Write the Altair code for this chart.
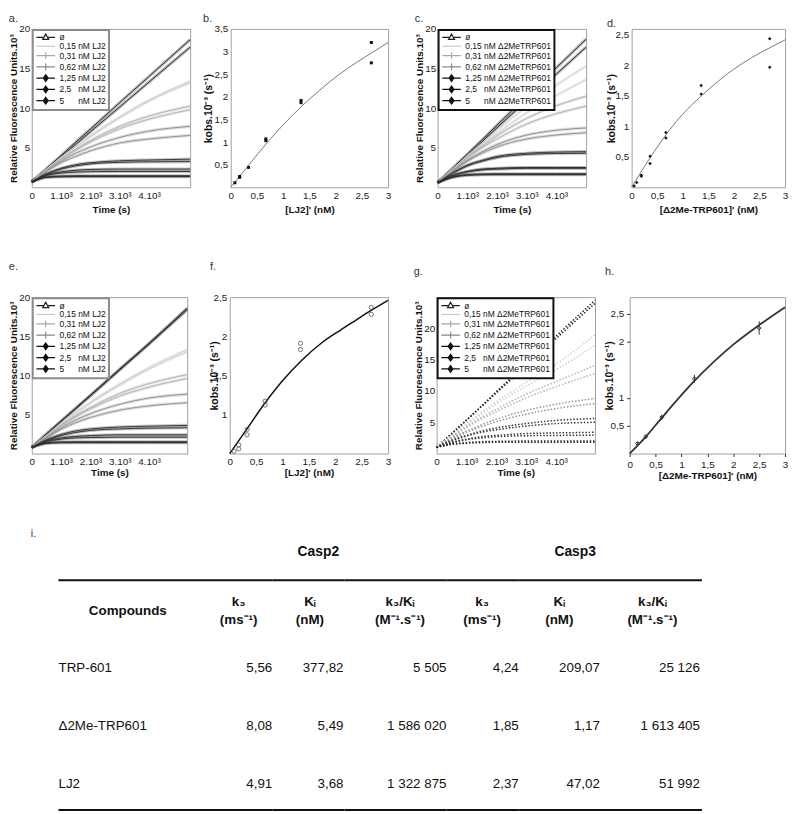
import altair as alt
import pandas as pd

FONT = "Liberation Sans"

# ---------------- time-course panels (a, c, e, g) : values ----------------
TIME_A = [0, 500, 1000, 1500, 2000, 3000, 4000, 5400]
TIME_C = [0, 500, 1000, 1500, 2000, 3000, 4000, 5000]
TIME_E = [0, 500, 1000, 1500, 2000, 3000, 4000, 5300]
TIME_G = [0, 500, 1000, 1500, 2000, 3000, 4000, 5300]

LJ2_LABELS = ["ø", "0,15 nM LJ2", "0,31 nM LJ2", "0,62 nM LJ2", "1,25 nM LJ2",
              "2,5\u00a0\u00a0 nM LJ2", "5\u00a0\u00a0\u00a0\u00a0\u00a0 nM LJ2"]
ME_LABELS = ["ø", "0,15 nM Δ2MeTRP601", "0,31 nM Δ2MeTRP601", "0,62 nM Δ2MeTRP601",
             "1,25 nM Δ2MeTRP601", "2,5\u00a0\u00a0 nM Δ2MeTRP601",
             "5\u00a0\u00a0\u00a0\u00a0\u00a0 nM Δ2MeTRP601"]

A_SERIES = [
    [[0.7, 2.35, 4.0, 5.7, 7.35, 10.7, 14.0, 18.65], [0.7, 2.3, 3.85, 5.4, 7.0, 10.15, 13.3, 17.7]],
    [[0.7, 2.3, 3.8, 5.2, 6.5, 8.9, 11.0, 13.4], [0.7, 2.25, 3.75, 5.1, 6.4, 8.8, 10.9, 13.2]],
    [[0.7, 2.2, 3.6, 4.8, 5.9, 7.7, 9.0, 10.25], [0.7, 2.15, 3.5, 4.7, 5.7, 7.4, 8.6, 9.8]],
    [[0.7, 2.1, 3.3, 4.3, 5.1, 6.3, 7.1, 7.7], [0.7, 2.0, 3.1, 3.9, 4.6, 5.6, 6.1, 6.55]],
    [[0.7, 1.7, 2.4, 2.85, 3.1, 3.35, 3.45, 3.55], [0.7, 1.65, 2.3, 2.7, 2.95, 3.15, 3.22, 3.25]],
    [[0.7, 1.55, 1.95, 2.15, 2.25, 2.3, 2.3, 2.3], [0.7, 1.5, 1.8, 1.92, 1.97, 2.0, 2.0, 2.0]],
    [[0.7, 1.3, 1.42, 1.45, 1.45, 1.45, 1.45, 1.45], [0.7, 1.25, 1.33, 1.35, 1.35, 1.35, 1.35, 1.35]],
]
C_SERIES = [
    [[0.6, 2.4, 4.2, 6.0, 7.85, 11.5, 15.1, 18.7], [0.6, 2.3, 4.0, 5.75, 7.5, 10.95, 14.3, 17.7]],
    [[0.6, 2.3, 4.0, 5.6, 7.2, 10.2, 12.9, 15.3], [0.6, 2.3, 3.9, 5.4, 6.8, 9.4, 11.6, 13.6]],
    [[0.6, 2.2, 3.8, 5.2, 6.5, 8.7, 10.3, 11.5], [0.6, 2.2, 3.7, 5.0, 6.1, 8.0, 9.3, 10.25]],
    [[0.6, 2.1, 3.4, 4.5, 5.4, 6.6, 7.2, 7.5], [0.6, 2.0, 3.3, 4.3, 5.1, 6.1, 6.6, 6.9]],
    [[0.6, 1.8, 2.8, 3.4, 3.9, 4.3, 4.45, 4.5], [0.6, 1.75, 2.7, 3.3, 3.75, 4.15, 4.27, 4.3]],
    [[0.6, 1.5, 2.0, 2.3, 2.4, 2.5, 2.5, 2.5], [0.6, 1.45, 1.95, 2.2, 2.3, 2.4, 2.4, 2.4]],
    [[0.6, 1.3, 1.6, 1.68, 1.7, 1.7, 1.7, 1.7], [0.6, 1.25, 1.52, 1.58, 1.6, 1.6, 1.6, 1.6]],
]
E_SERIES = [
    [[0.8, 2.5, 4.15, 5.8, 7.45, 10.8, 14.1, 18.6], [0.8, 2.45, 4.1, 5.75, 7.4, 10.7, 14.0, 18.4]],
    [[0.8, 2.35, 3.85, 5.25, 6.55, 8.9, 11.0, 13.3], [0.8, 2.3, 3.8, 5.2, 6.45, 8.75, 10.8, 13.0]],
    [[0.8, 2.25, 3.65, 4.85, 5.9, 7.7, 8.95, 10.1], [0.8, 2.2, 3.55, 4.7, 5.7, 7.35, 8.5, 9.6]],
    [[0.8, 2.1, 3.3, 4.3, 5.1, 6.3, 7.1, 7.6], [0.8, 2.0, 3.1, 3.95, 4.6, 5.55, 6.1, 6.5]],
    [[0.8, 1.75, 2.45, 2.9, 3.15, 3.4, 3.5, 3.6], [0.8, 1.7, 2.3, 2.7, 2.95, 3.15, 3.25, 3.3]],
    [[0.8, 1.6, 2.0, 2.2, 2.3, 2.4, 2.4, 2.4], [0.8, 1.5, 1.85, 2.0, 2.05, 2.1, 2.1, 2.1]],
    [[0.8, 1.35, 1.48, 1.5, 1.5, 1.5, 1.5, 1.5], [0.8, 1.3, 1.38, 1.4, 1.4, 1.4, 1.4, 1.4]],
]
G_SERIES = [
    [[1.0, 3.2, 5.4, 7.6, 9.9, 14.3, 18.8, 24.5], [1.0, 3.1, 5.3, 7.5, 9.7, 14.0, 18.4, 24.0]],
    [[1.0, 2.9, 4.8, 6.6, 8.3, 11.4, 14.3, 19.0], [1.0, 2.8, 4.6, 6.3, 7.9, 10.8, 13.4, 17.3]],
    [[1.0, 2.7, 4.3, 5.8, 7.1, 9.5, 11.5, 14.1], [1.0, 2.6, 4.1, 5.5, 6.7, 8.9, 10.7, 12.8]],
    [[1.0, 2.4, 3.6, 4.6, 5.5, 6.9, 7.9, 8.8], [1.0, 2.3, 3.4, 4.3, 5.1, 6.3, 7.2, 8.0]],
    [[1.0, 2.1, 2.9, 3.6, 4.1, 4.8, 5.3, 5.6], [1.0, 2.0, 2.8, 3.4, 3.8, 4.4, 4.8, 5.0]],
    [[1.0, 1.8, 2.3, 2.7, 2.9, 3.2, 3.3, 3.4], [1.0, 1.7, 2.2, 2.5, 2.7, 2.85, 2.9, 2.95]],
    [[1.0, 1.5, 1.75, 1.9, 1.95, 2.0, 2.0, 2.0], [1.0, 1.45, 1.65, 1.75, 1.8, 1.82, 1.82, 1.82]],
]

# ---------------- kobs panels (b, d, f, h) ----------------
B_X = [0.08, 0.17, 0.17, 0.34, 0.67, 0.67, 1.34, 1.34, 2.68, 2.68]
B_Y = [0.10, 0.22, 0.24, 0.44, 1.03, 1.07, 1.87, 1.92, 3.20, 2.75]
B_FIT_X = [0, 0.35, 0.69, 1.0, 1.36, 1.7, 2.05, 2.4, 2.7, 3.0]
B_FIT_Y = [0, 0.5, 0.98, 1.38, 1.8, 2.15, 2.48, 2.76, 2.98, 3.2]

D_X = [0.05, 0.1, 0.19, 0.19, 0.36, 0.36, 0.67, 0.67, 1.36, 1.36, 2.7, 2.7]
D_Y = [0.02, 0.08, 0.18, 0.2, 0.51, 0.39, 0.9, 0.81, 1.67, 1.53, 2.44, 1.97]
D_FIT_X = [0, 0.25, 0.5, 0.75, 1.0, 1.35, 1.75, 2.0, 2.35, 2.7, 3.0]
D_FIT_Y = [0, 0.34, 0.66, 0.95, 1.2, 1.49, 1.78, 1.94, 2.13, 2.29, 2.42]

F_X = [0.08, 0.17, 0.17, 0.33, 0.33, 0.67, 0.67, 1.34, 1.34, 2.68, 2.68]
F_Y = [0.53, 0.56, 0.61, 0.74, 0.81, 1.12, 1.17, 1.83, 1.91, 2.28, 2.37]
F_FIT_X = [0, 0.32, 0.65, 1.0, 1.36, 1.75, 2.1, 2.4, 2.7, 3.0]
F_FIT_Y = [0.5, 0.81, 1.13, 1.43, 1.69, 1.92, 2.08, 2.21, 2.34, 2.46]

H_X = [0.15, 0.31, 0.62, 1.25, 2.5]
H_Y = [0.18, 0.3, 0.65, 1.34, 2.25]
H_ERR = [0.03, 0.04, 0.04, 0.07, 0.12]
H_FIT_X = [0, 0.31, 0.62, 1.25, 2.0, 2.5, 3.0]
H_FIT_Y = [0, 0.3, 0.64, 1.3, 1.95, 2.3, 2.62]

# ---------------- table (i) ----------------
COMPOUNDS = ["TRP-601", "Δ2Me-TRP601", "LJ2"]
CASP2_K3 = ["5,56", "8,08", "4,91"]
CASP2_KI = ["377,82", "5,49", "3,68"]
CASP2_RATIO = ["5 505", "1 586 020", "1 322 875"]
CASP3_K3 = ["4,24", "1,85", "2,37"]
CASP3_KI = ["209,07", "1,17", "47,02"]
CASP3_RATIO = ["25 126", "1 613 405", "51 992"]
HEADERS = ["k₃\n(ms⁻¹)", "Kᵢ\n(nM)", "k₃/Kᵢ\n(M⁻¹.s⁻¹)"]

# ---------------- styles ----------------
LINE_COLORS = ["#2a2a2a", "#d0d0d0", "#b2b2b2", "#939393", "#3a3a3a", "#333333", "#2a2a2a"]
LEG_STROKE = ["#1e1e1e", "#c8c8c8", "#a8a8a8", "#888888", "#111111", "#111111", "#111111"]
LEG_FILL = ["#ffffff", "#c8c8c8", "#a8a8a8", "#888888", "#111111", "#111111", "#111111"]
P_TRI = "M-1,0L0.9,0M2.1,0L4,0M1.5,-0.9L2.3,0.55L0.7,0.55Z"
P_LINE = "M-1,0L4,0"
P_PLUS = "M-1,0L4,0M1.5,-0.9L1.5,0.9"
P_DIAM = "M-1,0L4,0M1.5,-0.9L2.15,0L1.5,0.9L0.85,0Z"
LEG_PATHS = [P_TRI, P_LINE, P_PLUS, P_PLUS, P_DIAM, P_DIAM, P_DIAM]

TIME_EXPR = "datum.value == 0 ? '0' : (datum.value / 1000) + '.10³'"
COMMA_EXPR = "replace(datum.label, '.', ',')"
KOBS_TITLE = "kobs.10⁻³ (s⁻¹)"


def kinetic(letter, times, series, labels, tmax, ymax, width, height, leg_stroke,
            dotted, title_offset, xtitle_pad):
    rows = []
    for lab, reps in zip(labels, series):
        for r, vals in enumerate(reps):
            for t, v in zip(times, vals):
                rows.append({"t": t, "v": v, "cond": lab, "rep": r})
    df = pd.DataFrame(rows)
    x = alt.X("t:Q", scale=alt.Scale(domain=[0, tmax], nice=False, zero=False),
              axis=alt.Axis(values=[0, 1000, 2000, 3000, 4000], labelExpr=TIME_EXPR,
                            title="Time (s)", titlePadding=xtitle_pad))
    y = alt.Y("v:Q", scale=alt.Scale(domain=[0, ymax], nice=False),
              axis=alt.Axis(values=[5, 10, 15, 20], title="Relative Fluorescence Units.10³",
                            titlePadding=0, labelPadding=2))
    # line colour scale listed in reverse order so that its (hidden) legend stays separate
    color = alt.Color("cond:N", scale=alt.Scale(domain=labels[::-1], range=LINE_COLORS[::-1]),
                      legend=None)
    base = alt.Chart(df)
    layers = []
    if dotted:
        layers.append(base.mark_line(interpolate="monotone", strokeWidth=1.5,
                                     strokeDash=[1.5, 1.8]).encode(x, y, color, detail="rep:N"))
    else:
        layers.append(base.mark_line(interpolate="monotone", strokeWidth=3.2, opacity=0.3)
                      .encode(x, y, color, detail="rep:N"))
        layers.append(base.mark_line(interpolate="monotone", strokeWidth=1)
                      .encode(x, y, color, detail="rep:N"))
    leg = alt.Legend(title=None, orient="top-left", offset=1, padding=3, strokeColor=leg_stroke,
                     fillColor="white", symbolSize=56, symbolStrokeWidth=1.2, symbolOpacity=1,
                     labelFont=FONT, labelFontSize=8.5, labelColor="#111", labelOffset=15,
                     rowPadding=-1.6)
    key = base.mark_point(opacity=0).encode(
        x, y,
        shape=alt.Shape("cond:N", scale=alt.Scale(domain=labels, range=LEG_PATHS), legend=leg),
        stroke=alt.Stroke("cond:N", scale=alt.Scale(domain=labels, range=LEG_STROKE), legend=leg),
        fill=alt.Fill("cond:N", scale=alt.Scale(domain=labels, range=LEG_FILL), legend=leg),
    )
    layers.append(key)
    return alt.layer(*layers).properties(
        width=width, height=height,
        title=alt.TitleParams(letter, anchor="start", offset=title_offset))


def kobs(letter, px, py, fx, fy, ydom, yticks, width, height, xtitle, point_mark, fit_mark,
         title_offset, ytitle_pad, xtitle_pad, ticks=False, err=None):
    x = alt.X("x:Q", scale=alt.Scale(domain=[0, 3], nice=False, zero=False),
              axis=alt.Axis(values=[0, 0.5, 1, 1.5, 2, 2.5, 3], format="~g", labelExpr=COMMA_EXPR,
                            title=xtitle, titlePadding=xtitle_pad, ticks=ticks, tickSize=3))
    yaxis = alt.Axis(values=yticks, format="~g", labelExpr=COMMA_EXPR, title=KOBS_TITLE,
                     titlePadding=ytitle_pad, ticks=ticks, tickSize=3, titleFontSize=10.5)
    yscale = alt.Scale(domain=ydom, nice=False, zero=False)
    y = alt.Y("y:Q", scale=yscale, axis=yaxis)
    fit = alt.Chart(pd.DataFrame({"x": fx, "y": fy})).mark_line(
        interpolate="monotone", **fit_mark).encode(x, y)
    pts = alt.Chart(pd.DataFrame({"x": px, "y": py})).mark_point(**point_mark).encode(x, y)
    layers = [fit, pts]
    if err is not None:
        edf = pd.DataFrame({"x": px, "lo": [a - e for a, e in zip(py, err)],
                            "hi": [a + e for a, e in zip(py, err)]})
        layers.append(alt.Chart(edf).mark_rule(color="#333", strokeWidth=1).encode(
            x, alt.Y("lo:Q", scale=yscale, axis=yaxis), alt.Y2("hi:Q")))
    return alt.layer(*layers).properties(
        width=width, height=height,
        title=alt.TitleParams(letter, anchor="start", offset=title_offset))


def spacer(w):
    return alt.Chart(pd.DataFrame({"s": [0]})).mark_point(opacity=0).encode(
        x=alt.value(0), y=alt.value(0)).properties(
        width=w, height=1, view=alt.ViewBackground(stroke="transparent"))


TABLE_H = 232
ROW_RANGE = [89, 206]


def tcol(width, header, header_x, header_y, values, value_x, align, rule_x0, title=None):
    hdr = alt.Chart(pd.DataFrame({"h": [header]})).mark_text(
        font=FONT, fontSize=13.5, fontWeight="bold", lineBreak="\n", lineHeight=18,
        align="center", baseline="middle", color="#111").encode(
        x=alt.value(header_x), y=alt.value(header_y), text="h:N")
    vals = alt.Chart(pd.DataFrame({"c": COMPOUNDS, "v": values})).mark_text(
        font=FONT, fontSize=13.5, align=align, baseline="middle", color="#111").encode(
        x=alt.value(value_x),
        y=alt.Y("c:N", scale=alt.Scale(type="point", domain=COMPOUNDS, range=ROW_RANGE, padding=0),
                axis=None),
        text="v:N")
    top = alt.Chart(pd.DataFrame({"r": [0]})).mark_rule(strokeWidth=2, color="#111").encode(
        x=alt.value(rule_x0), x2=alt.value(width), y=alt.value(0))
    bot = alt.Chart(pd.DataFrame({"r": [0]})).mark_rule(strokeWidth=2, color="#111").encode(
        x=alt.value(rule_x0), x2=alt.value(width), y=alt.value(TABLE_H))
    ch = alt.layer(top, bot, hdr, vals).properties(
        width=width, height=TABLE_H, view=alt.ViewBackground(stroke="transparent"))
    if title is not None:
        ch = ch.properties(title=title)
    return ch


# ---------------- panels ----------------
pa = kinetic("a.", TIME_A, A_SERIES, LJ2_LABELS, 5400, 20, 160, 160, "#8c8c8c", False, 0, 4)
pc = kinetic("c.", TIME_C, C_SERIES, ME_LABELS, 5000, 20, 150, 160, "#111111", False, 0, 4)
pe = kinetic("e.", TIME_E, E_SERIES, LJ2_LABELS, 5300, 20, 157, 158, "#8c8c8c", False, 20, 1)
pg = kinetic("g.", TIME_G, G_SERIES, ME_LABELS, 5300, 25, 160, 158, "#111111", True, 20, 1)

pb = kobs("b.", B_X, B_Y, B_FIT_X, B_FIT_Y, [0, 3.5], [0.5, 1, 1.5, 2, 2.5, 3, 3.5], 159, 160,
          "[LJ2]' (nM)", dict(shape="square", filled=True, size=9, color="#111", opacity=1),
          dict(color="#777", strokeWidth=1), 0, 1, 4)
pd_ = kobs("d.", D_X, D_Y, D_FIT_X, D_FIT_Y, [0, 2.6], [0.5, 1, 1.5, 2, 2.5], 155, 160,
           "[Δ2Me-TRP601]' (nM)", dict(shape="diamond", filled=True, size=12, color="#111", opacity=1),
           dict(color="#777", strokeWidth=1), 0, -2, 4)
pf = kobs("f.", F_X, F_Y, F_FIT_X, F_FIT_Y, [0.5, 2.5], [1, 1.5, 2, 2.5], 160, 158,
          "[LJ2]' (nM)", dict(shape="circle", filled=False, size=18, color="#555", strokeWidth=0.8,
                              opacity=1),
          dict(color="#111", strokeWidth=1.5), 20, -7, 1)
ph = kobs("h.", H_X, H_Y, H_FIT_X, H_FIT_Y, [0, 2.8], [0.5, 1, 2, 2.5], 157, 158,
          "[Δ2Me-TRP601]' (nM)", dict(shape="diamond", filled=False, size=16, color="#333",
                                      strokeWidth=1, opacity=1),
          dict(color="#333", strokeWidth=1.8), 20, -5, 1, ticks=True, err=H_ERR)

IND = dict(color="independent", shape="independent", stroke="independent", fill="independent")

row1 = alt.hconcat(pa, spacer(41), pb, spacer(50), pc, spacer(46), pd_,
                   spacing=0, bounds="flush").resolve_scale(**IND)
row2 = alt.hconcat(pe, spacer(43), pf, spacer(49), pg, spacer(35), ph,
                   spacing=0, bounds="flush").resolve_scale(**IND)

col0 = tcol(167, "Compounds", 97, 31, COMPOUNDS, 27, "left", 27,
            title=alt.TitleParams("i.", anchor="start", dx=-1, offset=41, fontSize=11))
c1 = tcol(76, HEADERS[0], 42, 22, CASP2_K3, 76, "right", 0)
c2 = tcol(73, HEADERS[1], 38, 22, CASP2_KI, 72, "right", 0,
          title=alt.TitleParams("Casp2", anchor="middle", dx=10, offset=21, fontSize=14,
                                fontWeight="bold", color="#111"))
c3 = tcol(103, HEADERS[2], 56, 22, CASP2_RATIO, 103, "right", 0)
c4 = tcol(73, HEADERS[0], 36, 22, CASP3_K3, 73, "right", 0)
c5 = tcol(82, HEADERS[1], 41, 22, CASP3_KI, 82, "right", 0,
          title=alt.TitleParams("Casp3", anchor="middle", dx=16, offset=21, fontSize=14,
                                fontWeight="bold", color="#111"))
c6 = tcol(103, HEADERS[2], 53, 22, CASP3_RATIO, 101, "right", 0)
table = alt.hconcat(col0, c1, c2, c3, c4, c5, c6, spacing=0, bounds="flush")

chart = alt.vconcat(row1, row2, table, spacing=46).resolve_scale(**IND).properties(padding=0)

chart = chart.configure(font=FONT).configure_view(
    stroke="#a0a0a0", strokeWidth=1
).configure_axis(
    domain=False, grid=False, ticks=False, tickColor="#333",
    labelFont=FONT, labelFontSize=10, labelColor="#222", labelPadding=3,
    labelFlush=False, labelOverlap=False,
    titleFont=FONT, titleFontSize=10, titleFontWeight="bold", titleColor="#111"
).configure_legend(strokeWidth=2).configure_title(
    font=FONT, fontSize=11, fontWeight="normal", color="#333"
)

chart.save("out.html", embed_options={"renderer": "svg", "actions": False})
